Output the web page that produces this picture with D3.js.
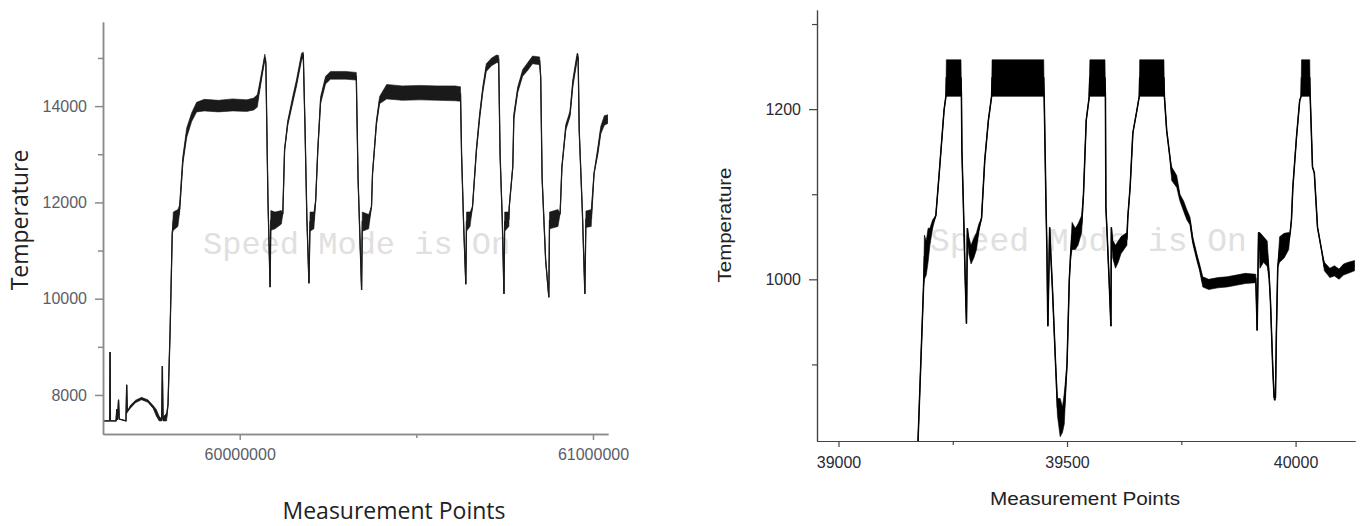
<!DOCTYPE html>
<html>
<head>
<meta charset="utf-8">
<script src="https://cdn.jsdelivr.net/npm/d3@7/dist/d3.min.js"></script>
<style>
    body { margin: 0; background: #fff; }
    #svg-box { width: 1363px; height: 526px; }
</style>
</head>
<body>
<div id="svg-box"></div>
<script>
// left chart: [measurement point, low, high] (low == high where the trace is a clean line)
var leftTrace = [
    [59613000, 7460, 7460], [59632000, 7460, 7460], [59633000, 8890, 8890], [59634000, 7460, 7460],
    [59650000, 7460, 7460], [59652000, 7700, 7700], [59654000, 7480, 7480], [59657000, 7900, 7900],
    [59659000, 7500, 7500], [59678000, 7460, 7460], [59680000, 8210, 8210], [59682000, 7650, 7650],
    [59690000, 7720, 7780], [59705000, 7840, 7890], [59722000, 7900, 7950], [59740000, 7850, 7900],
    [59755000, 7720, 7780], [59764000, 7560, 7700], [59772000, 7460, 7560], [59779000, 7460, 7500],
    [59781000, 8600, 8600], [59783000, 7460, 7540], [59793000, 7460, 7620], [59797000, 7800, 7800],
    [59803000, 9340, 9340], [59809000, 11350, 11350], [59812000, 11420, 11800], [59825000, 11500, 11850],
    [59830000, 11800, 11950], [59839000, 12800, 12950], [59850000, 13350, 13550], [59864000, 13680, 13860],
    [59878000, 13880, 14080], [59900000, 13900, 14140], [59940000, 13880, 14120], [59980000, 13900, 14150],
    [60020000, 13890, 14130], [60040000, 13920, 14170], [60050000, 13980, 14240], [60053000, 14150, 14350],
    [60064000, 14650, 14780], [60071000, 14950, 15080], [60074000, 14850, 14950], [60077000, 13440, 13440],
    [60080000, 12040, 12040], [60086000, 10240, 10240], [60088000, 11420, 11830], [60100000, 11450, 11800],
    [60118000, 11550, 11830], [60122000, 11770, 11770], [60127000, 13090, 13090], [60136000, 13600, 13700],
    [60150000, 14060, 14200], [60161000, 14420, 14560], [60175000, 14950, 15100], [60180000, 15000, 15120],
    [60185000, 13500, 13500], [60190000, 11700, 11700], [60196000, 10320, 10320], [60199000, 11400, 11800],
    [60210000, 11450, 11800], [60215000, 12040, 12040], [60221000, 13085, 13085], [60229000, 14050, 14200],
    [60243000, 14460, 14620], [60257000, 14560, 14720], [60300000, 14560, 14720], [60330000, 14540, 14700],
    [60335000, 12500, 12500], [60345000, 10180, 10180], [60347000, 11400, 11800], [60365000, 11450, 11750],
    [60373000, 11910, 11910], [60376000, 12600, 12600], [60387000, 13600, 13700], [60396000, 14050, 14200],
    [60416000, 14150, 14450], [60460000, 14120, 14420], [60510000, 14130, 14430], [60560000, 14120, 14420],
    [60610000, 14110, 14420], [60625000, 14100, 14400], [60628000, 13000, 13000], [60634000, 11500, 11500],
    [60640000, 10300, 10300], [60642000, 11400, 11800], [60652000, 11500, 11800], [60659000, 11910, 11910],
    [60670000, 13050, 13120], [60679000, 13720, 13840], [60688000, 14280, 14400], [60698000, 14720, 14880],
    [60713000, 14840, 15000], [60727000, 14900, 15060], [60733000, 14900, 15050], [60737000, 13000, 13000],
    [60743000, 11700, 11700], [60748000, 10100, 10100], [60750000, 11400, 11800], [60762000, 11500, 11800],
    [60763000, 11910, 11910], [60773000, 12740, 12740], [60776000, 13720, 13840], [60787000, 14280, 14400],
    [60801000, 14620, 14760], [60815000, 14740, 14900], [60829000, 14880, 15040], [60849000, 14860, 15020],
    [60852000, 14600, 14600], [60856000, 12500, 12500], [60866000, 10800, 10800], [60875000, 10030, 10030],
    [60877000, 11450, 11800], [60901000, 11500, 11850], [60907000, 11770, 11770], [60912000, 12730, 12730],
    [60923000, 13500, 13620], [60935000, 13780, 13900], [60943000, 14400, 14560], [60955000, 14940, 15100],
    [60958000, 14950, 15080], [60961000, 13500, 13500], [60970000, 11800, 11800], [60977000, 10100, 10100],
    [60980000, 11480, 11820], [60995000, 11500, 11850], [61003000, 12600, 12600], [61014000, 13000, 13160],
    [61022000, 13420, 13580], [61032000, 13600, 13800], [61042000, 13640, 13820]
];
var leftXTicks = [60000000, 61000000];
var leftXMinor = [60500000];
var leftYTicks = [8000, 10000, 12000, 14000];
var leftYMinor = [9000, 11000, 13000, 15000];

// right chart: [measurement point, low, high]
var rightTrace = [
    [39174, 810, 810], [39180, 900, 900], [39186, 990, 990], [39188, 1000, 1052], [39192, 1005, 1045],
    [39196, 1020, 1060], [39200, 1040, 1060], [39206, 1060, 1070], [39213, 1075, 1075], [39220, 1122, 1122],
    [39231, 1199, 1199], [39235, 1215, 1215], [39236, 1215, 1258], [39268, 1215, 1258], [39269, 1215, 1215],
    [39270, 1152, 1152], [39273, 1093, 1093], [39277, 1005, 1005], [39280, 948, 948], [39282, 1060, 1060],
    [39285, 1030, 1050], [39290, 1018, 1040], [39296, 1025, 1048], [39302, 1035, 1055], [39307, 1055, 1065],
    [39313, 1072, 1072], [39320, 1140, 1140], [39328, 1187, 1187], [39335, 1215, 1215], [39336, 1215, 1258],
    [39449, 1215, 1258], [39450, 1215, 1215], [39454, 1087, 1087], [39456, 1034, 1034], [39458, 945, 945],
    [39460, 1000, 1000], [39462, 1061, 1061], [39464, 1030, 1040], [39468, 990, 990], [39475, 900, 900],
    [39479, 840, 860], [39485, 815, 860], [39490, 820, 850], [39494, 830, 866], [39500, 900, 900],
    [39505, 1000, 1000], [39508, 1025, 1035], [39511, 1035, 1067], [39518, 1035, 1060], [39524, 1040, 1065],
    [39532, 1055, 1075], [39536, 1100, 1100], [39542, 1187, 1187], [39548, 1212, 1212], [39550, 1215, 1258],
    [39583, 1215, 1258], [39584, 1215, 1215], [39585, 1085, 1085], [39588, 1050, 1050], [39592, 1000, 1000],
    [39596, 945, 945], [39597, 1061, 1061], [39600, 1025, 1046], [39606, 1013, 1040], [39612, 1020, 1045],
    [39618, 1030, 1050], [39631, 1040, 1055], [39633, 1073, 1073], [39638, 1108, 1108], [39644, 1172, 1172],
    [39653, 1199, 1199], [39658, 1215, 1215], [39659, 1215, 1258], [39712, 1215, 1258], [39713, 1215, 1215],
    [39718, 1175, 1175], [39725, 1144, 1144], [39729, 1116, 1132], [39740, 1108, 1122], [39747, 1092, 1100],
    [39755, 1080, 1092], [39762, 1070, 1082], [39769, 1064, 1073], [39775, 1042, 1050], [39784, 1022, 1030],
    [39790, 1010, 1018], [39797, 991, 1003], [39810, 988, 1000], [39830, 990, 1002], [39850, 991, 1003],
    [39870, 993, 1005], [39890, 995, 1007], [39913, 996, 1006], [39916, 940, 940], [39919, 1055, 1055],
    [39922, 1013, 1055], [39930, 1020, 1050], [39938, 1015, 1045], [39942, 1000, 1010], [39945, 975, 975],
    [39950, 897, 897], [39953, 858, 865], [39956, 858, 865], [39958, 936, 936], [39961, 1014, 1014],
    [39965, 1020, 1050], [39975, 1025, 1054], [39985, 1035, 1055], [39988, 1054, 1054], [39991, 1070, 1070],
    [39994, 1108, 1108], [40002, 1167, 1167], [40009, 1210, 1210], [40012, 1215, 1215], [40013, 1215, 1258],
    [40031, 1215, 1258], [40032, 1215, 1215], [40037, 1132, 1132], [40041, 1125, 1125], [40048, 1061, 1061],
    [40057, 1034, 1034], [40063, 1010, 1020], [40075, 1002, 1013], [40085, 1004, 1016], [40095, 1000, 1012],
    [40105, 1005, 1018], [40115, 1007, 1020], [40129, 1010, 1022]
];
var rightXTicks = [39000, 39500, 40000];
var rightXMinor = [39250, 39750];
var rightYTicks = [1000, 1200];
var rightYMinor = [900, 1100, 1300];

var watermark = 'Speed Mode is On';

var svg = d3.select('#svg-box')
    .append('svg')
    .attr('width', 1363)
    .attr('height', 526);

// one panel: watermark, trace band + line, axes, titles
function drawPanel(opt) {
    var x = d3.scaleLinear().domain(opt.xDomain).range([opt.left, opt.right]);
    var y = d3.scaleLinear().domain(opt.yDomain).range([opt.bottom, opt.top]);
    var g = svg.append('g').attr('class', opt.name);

    g.append('text')
        .text(watermark)
        .attr('x', opt.wm[0])
        .attr('y', opt.wm[1])
        .attr('font-family', '"Liberation Mono", "DejaVu Sans Mono", monospace')
        .attr('font-size', opt.wm[2])
        .attr('fill', '#e0e0e0');

    g.append('clipPath').attr('id', 'clip-' + opt.name)
        .append('rect')
        .attr('x', opt.left).attr('y', opt.top)
        .attr('width', opt.right - opt.left).attr('height', opt.bottom - opt.top);

    var plot = g.append('g').attr('clip-path', 'url(#clip-' + opt.name + ')');

    var area = d3.area()
        .x(function (d) { return x(d[0]); })
        .y0(function (d) { return y(d[1]); })
        .y1(function (d) { return y(d[2]); });
    var line = d3.line()
        .x(function (d) { return x(d[0]); })
        .y(function (d) { return y((d[1] + d[2]) / 2); });

    plot.append('path').datum(opt.data)
        .attr('d', area)
        .attr('fill', opt.ink)
        .attr('stroke', opt.ink)
        .attr('stroke-width', 0.6);
    plot.append('path').datum(opt.data)
        .attr('d', line)
        .attr('fill', 'none')
        .attr('stroke', opt.ink)
        .attr('stroke-width', opt.lineWidth);

    // axes (major + minor ticks)
    var ax = g.append('g').attr('transform', 'translate(0,' + opt.bottom + ')')
        .call(d3.axisBottom(x).tickValues(opt.xTicks).tickSize(6).tickSizeOuter(0)
            .tickPadding(opt.xPad).tickFormat(d3.format('d')));
    var axm = g.append('g').attr('transform', 'translate(0,' + opt.bottom + ')')
        .call(d3.axisBottom(x).tickValues(opt.xMinor).tickSize(4).tickSizeOuter(0).tickFormat(''));
    var ay = g.append('g').attr('transform', 'translate(' + opt.left + ',0)')
        .call(d3.axisLeft(y).tickValues(opt.yTicks).tickSize(8).tickSizeOuter(0)
            .tickPadding(8).tickFormat(d3.format('d')));
    var aym = g.append('g').attr('transform', 'translate(' + opt.left + ',0)')
        .call(d3.axisLeft(y).tickValues(opt.yMinor).tickSize(5).tickSizeOuter(0).tickFormat(''));

    [ax, axm, ay, aym].forEach(function (a) {
        a.selectAll('path, line').attr('stroke', opt.axisColor).attr('stroke-width', opt.axisWidth);
        a.selectAll('text')
            .attr('font-family', '"Liberation Sans", Arial, sans-serif')
            .attr('font-size', 16)
            .attr('fill', opt.tickColor);
    });

    // axis titles
    var yt = g.append('text')
        .text('Temperature')
        .attr('transform', 'translate(' + opt.yTitle[0] + ',' + opt.yTitle[1] + ') rotate(-90)')
        .attr('text-anchor', 'middle')
        .attr('font-family', opt.titleFont)
        .attr('font-size', opt.titleSize)
        .attr('fill', '#222');
    var xt = g.append('text')
        .text('Measurement Points')
        .attr('x', opt.xTitle[0])
        .attr('y', opt.xTitle[1])
        .attr('text-anchor', 'middle')
        .attr('font-family', opt.titleFont)
        .attr('font-size', opt.titleSize)
        .attr('fill', '#222');
    if (opt.titleLen) {
        yt.attr('textLength', opt.titleLen[0]).attr('lengthAdjust', 'spacingAndGlyphs');
        xt.attr('textLength', opt.titleLen[1]).attr('lengthAdjust', 'spacingAndGlyphs');
    }
}

drawPanel({
    name: 'left',
    data: leftTrace,
    left: 103, right: 608, top: 22, bottom: 434,
    xDomain: [59613000, 61042500],
    yDomain: [7189, 15747],
    xTicks: leftXTicks, xMinor: leftXMinor,
    yTicks: leftYTicks, yMinor: leftYMinor,
    xPad: 9,
    ink: '#1a1a1a', lineWidth: 1.3,
    axisColor: '#8a8a8a', axisWidth: 1.5, tickColor: '#5a5d68',
    titleFont: '"Open Sans", sans-serif', titleSize: 23,
    yTitle: [28, 220], xTitle: [394, 519],
    wm: [203, 254, 32]
});

drawPanel({
    name: 'right',
    data: rightTrace,
    left: 817, right: 1355, top: 10, bottom: 441,
    xDomain: [38953, 40130],
    yDomain: [810, 1316.5],
    xTicks: rightXTicks, xMinor: rightXMinor,
    yTicks: rightYTicks, yMinor: rightYMinor,
    xPad: 10,
    ink: '#000', lineWidth: 1.5,
    axisColor: '#444', axisWidth: 1.2, tickColor: '#2a2a35',
    titleFont: '"Liberation Sans", Arial, sans-serif', titleSize: 18,
    titleLen: [115, 190],
    yTitle: [731, 225], xTitle: [1085, 505],
    wm: [930, 251, 33]
});
</script>
</body>
</html>
